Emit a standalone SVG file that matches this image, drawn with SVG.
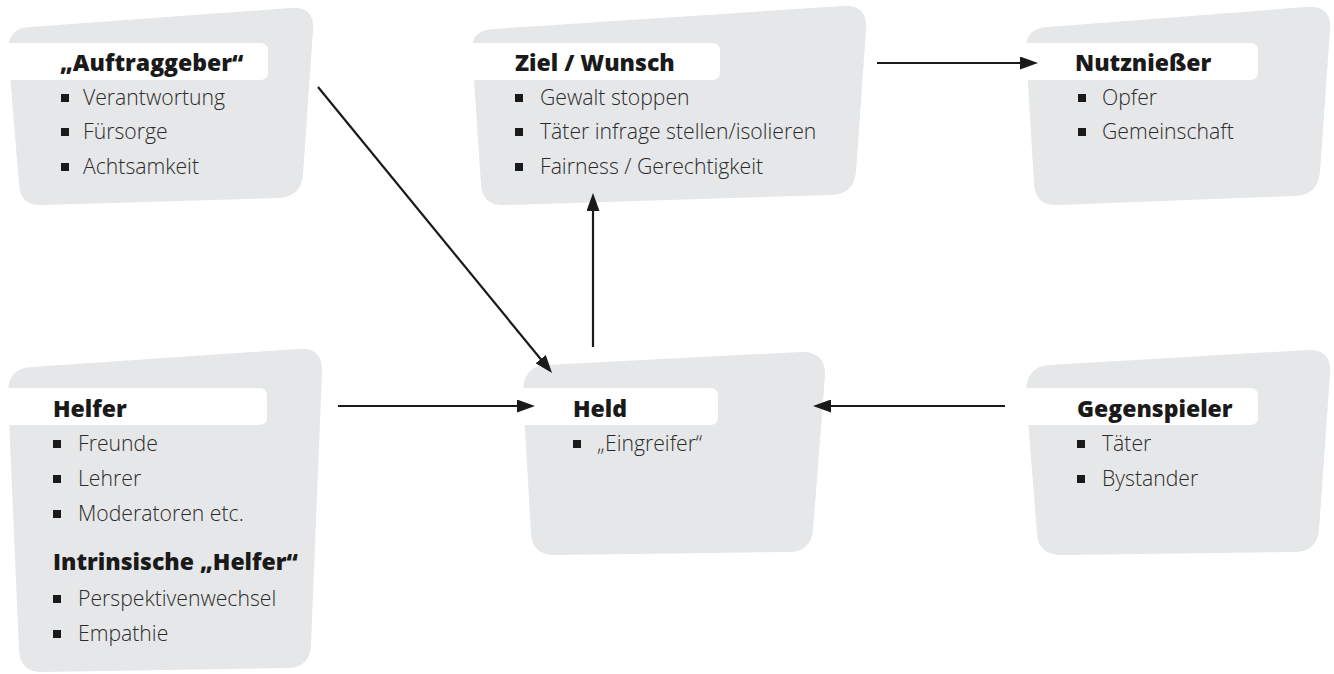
<svg xmlns="http://www.w3.org/2000/svg" width="1334" height="674" viewBox="0 0 1334 674">
<defs>
<style>
.blob{fill:#e6e7e8}
.bar{fill:#ffffff}
.hd{font-family:"Open Sans","Liberation Sans",sans-serif;font-weight:800;font-size:23px;fill:#1a1a1a}
.it{font-family:"Open Sans","Liberation Sans",sans-serif;font-weight:300;font-size:21.2px;fill:#2b2b2b}
.bl{fill:#1a1a1a}
.con{stroke:#1a1a1a;stroke-width:2.2;fill:none;marker-end:url(#ah)}
</style>
<marker id="ah" markerUnits="userSpaceOnUse" viewBox="0 0 18 13" markerWidth="18" markerHeight="13" refX="10" refY="6.5" orient="auto">
<path d="M0,0 L18,6.5 L0,13 Z" fill="#1a1a1a"/>
</marker>
</defs>

<g id="auftraggeber">
<path class="blob" d="M8,50 Q8,28 30,27 L290,8 Q315,6 313,30 L303,175 Q301,197 278,198 L42,205 Q20,206 19,184 Z"/>
<path class="bar" d="M0,43 H260 Q268,43 268,51 V72 Q268,80 260,80 H0 Z"/>
<text class="hd" x="60" y="71">„Auftraggeber“</text>
<rect class="bl" x="61" y="94" width="8" height="8"/>
<text class="it" x="83" y="105">Verantwortung</text>
<rect class="bl" x="61" y="128" width="8" height="8"/>
<text class="it" x="83" y="139">Fürsorge</text>
<rect class="bl" x="61" y="163" width="8" height="8"/>
<text class="it" x="83" y="174">Achtsamkeit</text>
</g>

<g id="ziel">
<path class="blob" d="M472,50 Q471,30 494,29 L842,6 Q868,4 866,30 L856,172 Q854,194 831,195 L505,205 Q482,206 481,184 Z"/>
<path class="bar" d="M470,43 H712 Q720,43 720,51 V72 Q720,80 712,80 H470 Z"/>
<text class="hd" x="515" y="71">Ziel / Wunsch</text>
<rect class="bl" x="515" y="94" width="8" height="8"/>
<text class="it" x="540" y="105">Gewalt stoppen</text>
<rect class="bl" x="515" y="128" width="8" height="8"/>
<text class="it" x="540" y="139">Täter infrage stellen/isolieren</text>
<rect class="bl" x="515" y="163" width="8" height="8"/>
<text class="it" x="540" y="174">Fairness / Gerechtigkeit</text>
</g>

<g id="nutzniesser">
<path class="blob" d="M1026,50 Q1025,28 1048,27 L1306,7 Q1332,5 1330,30 L1320,172 Q1318,195 1295,196 L1058,205 Q1035,206 1034,184 Z"/>
<path class="bar" d="M1025,43 H1250 Q1258,43 1258,51 V72 Q1258,80 1250,80 H1025 Z"/>
<text class="hd" x="1075" y="71">Nutznießer</text>
<rect class="bl" x="1078" y="94" width="8" height="8"/>
<text class="it" x="1102" y="105">Opfer</text>
<rect class="bl" x="1078" y="128" width="8" height="8"/>
<text class="it" x="1102" y="139">Gemeinschaft</text>
</g>

<g id="helfer">
<path class="blob" d="M8,395 Q7,368 32,367 L298,349 Q323,347 322,372 L311,645 Q310,668 287,668 L42,672 Q20,672 19,650 Z"/>
<path class="bar" d="M0,388 H259 Q267,388 267,396 V417 Q267,425 259,425 H0 Z"/>
<text class="hd" x="53" y="417">Helfer</text>
<rect class="bl" x="53" y="440" width="8" height="8"/>
<text class="it" x="78" y="451">Freunde</text>
<rect class="bl" x="53" y="475" width="8" height="8"/>
<text class="it" x="78" y="486">Lehrer</text>
<rect class="bl" x="53" y="510" width="8" height="8"/>
<text class="it" x="78" y="521">Moderatoren etc.</text>
<text class="hd" x="53" y="570">Intrinsische „Helfer“</text>
<rect class="bl" x="53" y="595" width="8" height="8"/>
<text class="it" x="78" y="606">Perspektivenwechsel</text>
<rect class="bl" x="53" y="630" width="8" height="8"/>
<text class="it" x="78" y="641">Empathie</text>
</g>

<g id="held">
<path class="blob" d="M523,395 Q522,366 546,365 L800,352 Q826,351 825,376 L813,530 Q811,552 788,552 L555,555 Q532,555 531,533 Z"/>
<path class="bar" d="M520,388 H710 Q718,388 718,396 V417 Q718,425 710,425 H520 Z"/>
<text class="hd" x="573" y="417">Held</text>
<rect class="bl" x="573" y="440" width="8" height="8"/>
<text class="it" x="597" y="451">„Eingreifer“</text>
</g>

<g id="gegenspieler">
<path class="blob" d="M1026,395 Q1025,366 1050,365 L1308,350 Q1332,349 1330,374 L1319,530 Q1317,552 1294,552 L1062,555 Q1038,555 1037,533 Z"/>
<path class="bar" d="M1025,388 H1250 Q1258,388 1258,396 V417 Q1258,425 1250,425 H1025 Z"/>
<text class="hd" x="1077" y="417">Gegenspieler</text>
<rect class="bl" x="1077" y="440" width="8" height="8"/>
<text class="it" x="1102" y="451">Täter</text>
<rect class="bl" x="1077" y="475" width="8" height="8"/>
<text class="it" x="1102" y="486">Bystander</text>
</g>

<g id="connectors">
<line class="con" x1="318" y1="87" x2="547" y2="366.8"/>
<line class="con" x1="593" y1="347" x2="593" y2="201"/>
<line class="con" x1="877" y1="63" x2="1030" y2="63"/>
<line class="con" x1="338" y1="406" x2="527" y2="406"/>
<line class="con" x1="1005" y1="406" x2="821" y2="406"/>
</g>
</svg>
